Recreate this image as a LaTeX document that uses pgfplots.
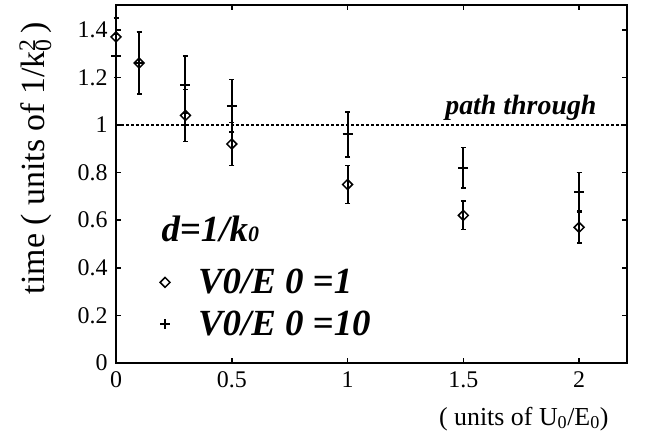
\documentclass[border=0pt]{standalone}
\usepackage{pgfplots}
\pgfplotsset{compat=1.18}
\usepackage{fontspec}
\setmainfont{Liberation Serif}
\pgfplotstableread{
x y e
0 1.37 0.08
0.1 1.26 0.13
0.3 1.04 0.11
0.5 0.92 0.09
1 0.75 0.08
1.5 0.62 0.06
2 0.57 0.065
}\diam
\pgfplotstableread{
x y e
0 1.29 0.09
0.1 1.26 0.13
0.3 1.17 0.12
0.5 1.08 0.11
1 0.96 0.095
1.5 0.82 0.085
2 0.72 0.08
}\plus
\begin{document}
\begin{tikzpicture}
\useasboundingbox (0bp,0bp) rectangle (647bp,439bp);
\begin{axis}[
 at={(116bp,76bp)}, anchor=south west,
 scale only axis, width=511bp, height=358bp,
 xmin=0, xmax=2.207, ymin=0, ymax=1.504,
 clip=false,
 axis line style={line width=2bp},
 xtick={0,0.5,1,1.5,2}, ytick={0,0.2,0.4,0.6,0.8,1,1.2,1.4},
 xticklabels={0,0.5,1,1.5,2},
 yticklabels={0,0.2,0.4,0.6,0.8,1,1.2,1.4},
 tick align=inside, major tick length=5bp,
 tick style={line width=1.5bp, black},
 ticklabel style={font=\fontsize{24}{24}\selectfont},
 yticklabel style={xshift=-5bp},
 xticklabel style={yshift=-5bp},
 /pgf/number format/assume math mode=true,
 legend style={draw=none, fill=none, font=\fontsize{37}{40}\selectfont\bfseries\itshape,
   at={(0.08,0.06)}, anchor=south west, row sep=12bp, column sep=26bp},
 legend cell align=left,
]
\addplot[forget plot, line width=1.5bp, dash pattern=on 3bp off 2bp] coordinates {(0,1) (2.207,1)};
\addplot[only marks, mark=square, mark size=3.5bp, mark options={rotate=45, line width=1.5bp, fill=white},
  error bars/.cd, y dir=both, y explicit,
  error bar style={line width=2bp},
  error mark options={rotate=90, mark size=2.5bp, line width=1.5bp}]
  table[x=x, y=y, y error=e] {\diam};
\addlegendentry{V0/E 0 =1}
\addplot[only marks, mark=+, mark size=5bp, mark options={line width=2bp},
  error bars/.cd, y dir=both, y explicit,
  error bar style={line width=2bp},
  error mark options={rotate=90, mark size=2.5bp, line width=1.5bp}]
  table[x=x, y=y, y error=e] {\plus};
\addlegendentry{V0/E 0 =10}
\end{axis}
\node[anchor=base west, font=\fontsize{37}{40}\selectfont\bfseries\itshape] at (158bp,197bp) {d=1/k{\fontsize{22}{22}\selectfont 0}};
\node[anchor=base east, font=\fontsize{28}{30}\selectfont\bfseries\itshape] at (600bp,324bp) {path through};
\node[anchor=base east, font=\fontsize{26}{28}\selectfont] at (612bp,14bp) {( units of U\textsubscript{0}/E\textsubscript{0})};
\node[anchor=base, rotate=90, font=\fontsize{34}{36}\selectfont] at (44bp,281bp) {time ( units of 1/k\rlap{\textsuperscript{2}}\textsubscript{0}\,)};
\end{tikzpicture}
\end{document}
